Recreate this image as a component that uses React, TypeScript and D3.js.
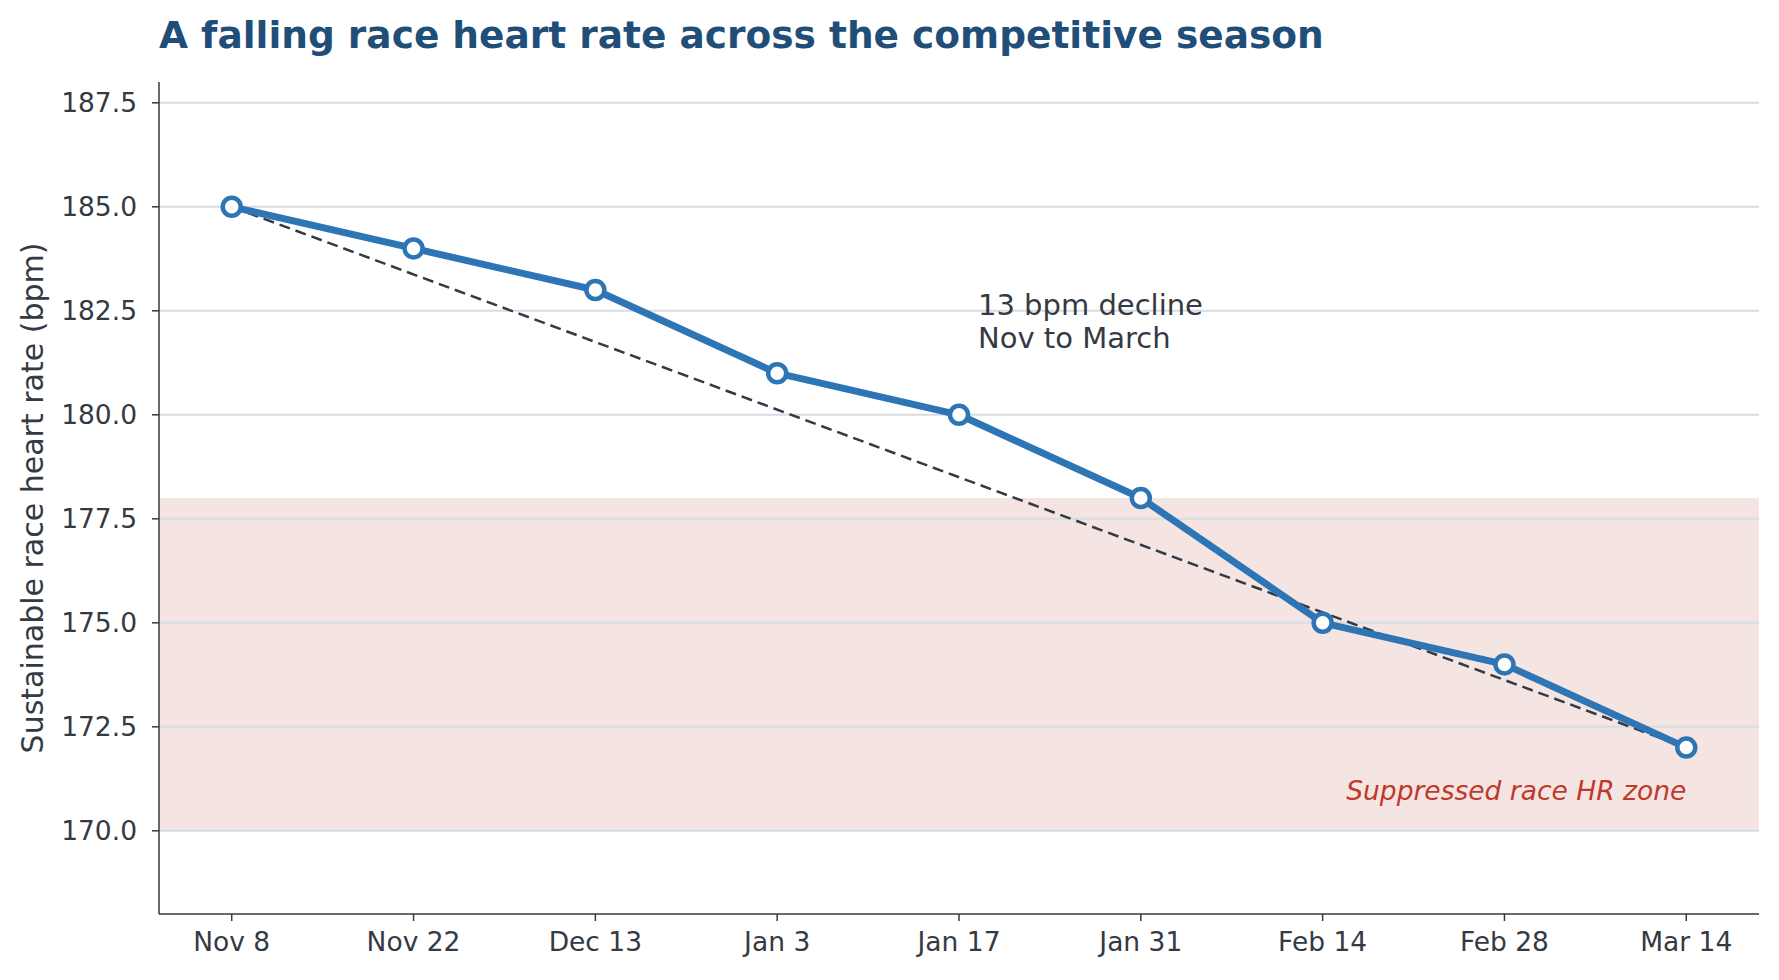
import React from "react";
import * as d3 from "d3";

const dates = ["Nov 8", "Nov 22", "Dec 13", "Jan 3", "Jan 17", "Jan 31", "Feb 14", "Feb 28", "Mar 14"];
const heartRate = [185, 184, 183, 181, 180, 178, 175, 174, 172];
const yTicks = [170, 172.5, 175, 177.5, 180, 182.5, 185, 187.5];
const zone = [170, 178];

export default function App() {
  const W = 1779, H = 980;
  const m = { left: 159, right: 20, top: 82, bottom: 66 };
  const x = d3.scalePoint<string>().domain(dates).range([m.left, W - m.right]).padding(0.4);
  const y = d3.scaleLinear().domain([168, 188]).range([H - m.bottom, m.top]);
  const line = d3.line<number>().x((_, i) => x(dates[i])!).y((d) => y(d));
  const first = heartRate[0], last = heartRate[heartRate.length - 1];
  const font = "'DejaVu Sans', sans-serif";
  const ink = "#333a44";

  return (
    <svg width={W} height={H} style={{ position: "absolute", left: 0, top: 0 }} fontFamily={font}>
      <rect width={W} height={H} fill="#fff" />
      <text x={m.left} y={48} fontSize={37.5} fontWeight="bold" fill="#1f4e79">
        A falling race heart rate across the competitive season
      </text>
      <rect x={m.left} y={y(zone[1])} width={W - m.right - m.left} height={y(zone[0]) - y(zone[1])} fill="#f5e5e2" />
      {yTicks.map((t) => (
        <g key={t}>
          <line x1={m.left} x2={W - m.right} y1={y(t)} y2={y(t)} stroke="#d5dce3" strokeWidth={2} />
          <line x1={m.left - 7} x2={m.left} y1={y(t)} y2={y(t)} stroke={ink} strokeWidth={1.5} />
          <text x={m.left - 22} y={y(t)} dy="0.35em" textAnchor="end" fontSize={26.5} fill={ink}>
            {t.toFixed(1)}
          </text>
        </g>
      ))}
      {dates.map((d) => (
        <g key={d}>
          <line x1={x(d)} x2={x(d)} y1={H - m.bottom} y2={H - m.bottom + 7} stroke={ink} strokeWidth={1.5} />
          <text x={x(d)} y={H - m.bottom + 37} textAnchor="middle" fontSize={26.5} fill={ink}>{d}</text>
        </g>
      ))}
      <line x1={m.left} x2={m.left} y1={m.top} y2={H - m.bottom} stroke={ink} strokeWidth={1.5} />
      <line x1={m.left} x2={W - m.right} y1={H - m.bottom} y2={H - m.bottom} stroke={ink} strokeWidth={1.5} />
      <text transform={`translate(43,${(m.top + H - m.bottom) / 2}) rotate(-90)`} textAnchor="middle" fontSize={30} fill={ink}>
        Sustainable race heart rate (bpm)
      </text>
      <line x1={x(dates[0])} y1={y(first)} x2={x(dates[dates.length - 1])} y2={y(last)} stroke={ink} strokeWidth={2.5} strokeDasharray="11,6" />
      <path d={line(heartRate)!} fill="none" stroke="#2e75b6" strokeWidth={7} strokeLinejoin="round" />
      {heartRate.map((v, i) => (
        <circle key={i} cx={x(dates[i])} cy={y(v)} r={9} fill="#fff" stroke="#2e75b6" strokeWidth={4.5} />
      ))}
      <text x={978} y={315} fontSize={29} fill={ink}>
        <tspan x={978}>{`${first - last} bpm decline`}</tspan>
        <tspan x={978} dy={33}>Nov to March</tspan>
      </text>
      <text x={x(dates[dates.length - 1])} y={800} textAnchor="end" fontSize={26.5} fontStyle="italic" fill="#c0392b">
        Suppressed race HR zone
      </text>
    </svg>
  );
}
